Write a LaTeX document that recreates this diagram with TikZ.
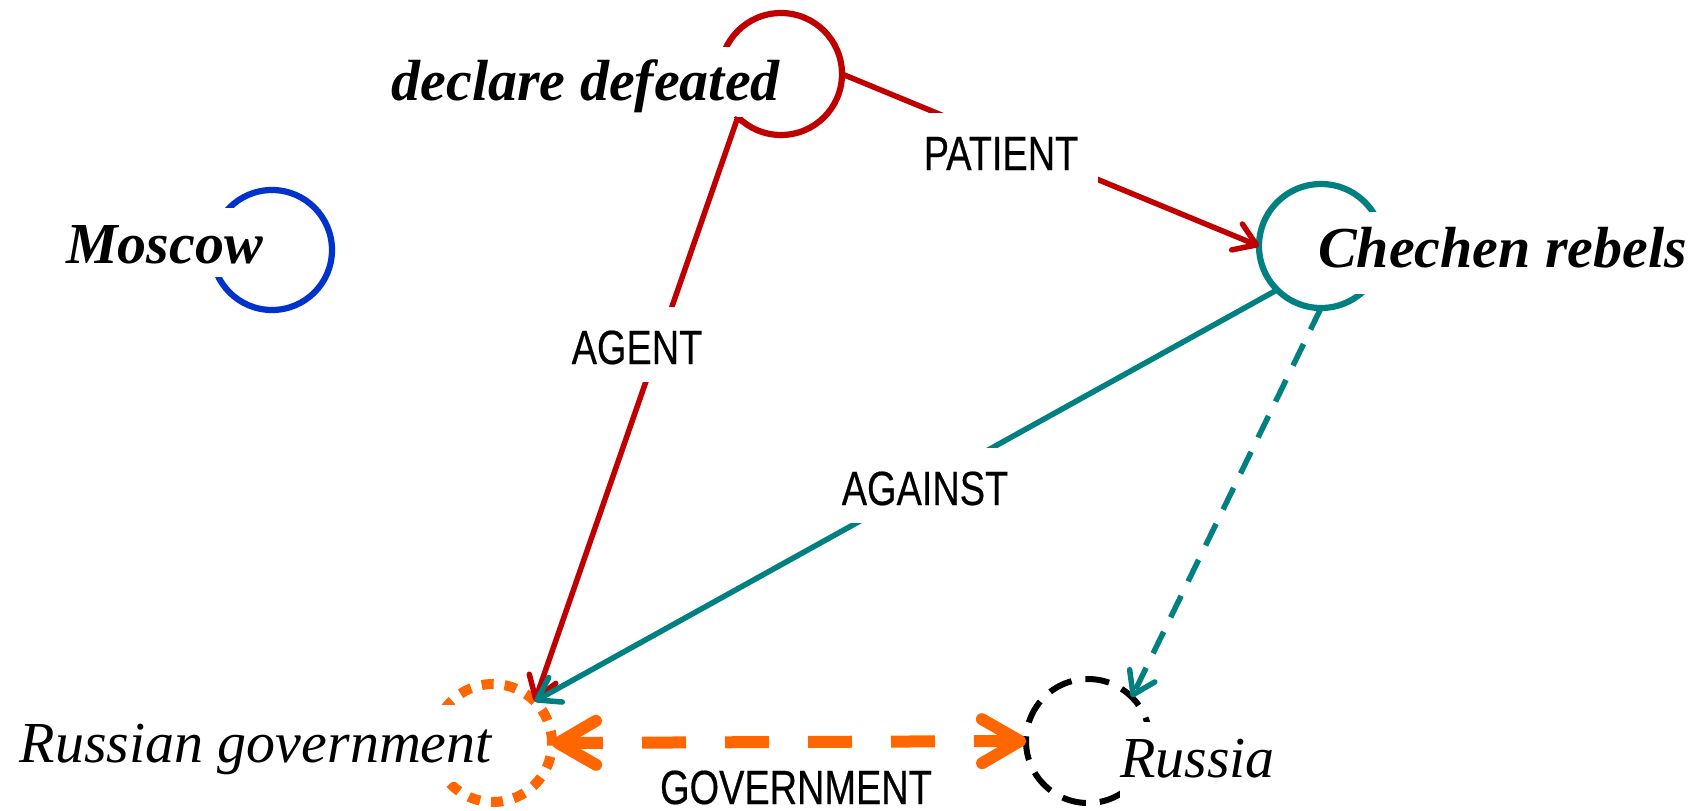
\documentclass[tikz,border=0pt]{standalone}
\usepackage{fontspec}
\setmainfont{Liberation Serif}
\newfontfamily\labfont[FakeStretch=0.79,FakeBold=0.4]{Liberation Sans}
\usetikzlibrary{arrows.meta}
\definecolor{cred}{RGB}{192,0,0}
\definecolor{cteal}{RGB}{0,128,128}
\definecolor{cblue}{RGB}{0,51,204}
\definecolor{corange}{RGB}{255,102,0}
\begin{document}
\begin{tikzpicture}[x=1pt,y=-1pt,
  ring/.style={circle, minimum size=#1, inner sep=0pt, outer sep=0pt, line width=6.2pt},
  nodetext/.style={font=\fontsize{58pt}{60pt}\selectfont\bfseries\itshape, fill=white, inner xsep=4pt, inner ysep=0pt},
  plaintext/.style={font=\fontsize{58pt}{60pt}\selectfont\itshape, fill=white, inner xsep=4pt, inner ysep=0pt},
  lab/.style={font=\labfont\fontsize{48pt}{50pt}\selectfont, fill=white, inner xsep=20pt, inner ysep=0pt, text height=57pt, text depth=18pt, anchor=base},
  redarr/.style={draw=cred, line width=5.5pt, -{Straight Barb[round,length=21pt,width=28pt]}},
  tealarr/.style={draw=cteal, line width=5.5pt, -{Straight Barb[round,length=21pt,width=28pt]}},
  tealdash/.style={tealarr, dash pattern=on 24pt off 16pt},
  orangearr/.style={draw=corange, line width=12pt, dash pattern=on 44pt off 39pt, dash phase=5pt,
    {Straight Barb[round,length=38pt,width=44pt]}-{Straight Barb[round,length=38pt,width=44pt]}}
]
\useasboundingbox[fill=white] (0,0) rectangle (1700,811);

% circles
\node[ring=120pt, draw=cblue] (mo) at (272,250) {};
\node[ring=122pt, draw=cred] (dd) at (781,74) {};
\node[ring=124pt, draw=cteal] (cr) at (1321,246) {};
\node[ring=118pt, draw=corange, line width=10pt, dash pattern=on 12pt off 11pt] (rg) at (493,743) {};
\node[ring=124pt, draw=black, line width=6pt, dash pattern=on 24pt off 14pt] (ru) at (1088,741) {};

% node texts
\node[nodetext, anchor=base east, text height=55pt, text depth=14pt] (mot) at (267,263) {Moscow};
\node[nodetext, anchor=base east, text height=53pt, text depth=17pt] (ddt) at (784,100) {declare defeated};
\node[nodetext, anchor=base west, text height=55pt, text depth=27pt] (crt) at (1314,267) {Chechen rebels};
\node[plaintext, anchor=base east, text height=57pt, text depth=20pt] (rgt) at (496,762) {Russian government};
\node[plaintext, anchor=base west, inner xsep=0pt, text height=55pt, text depth=27pt] (rut) at (1120,777) {Russia};

% connectors
\draw[redarr] (dd.east) -- (cr.west);
\draw[redarr] (dd.south west) -- (rg.north east);
\draw[tealarr] (cr.south west) -- (rg.north east);
\draw[tealdash] (cr.south) -- (ru.north east);
\draw[orangearr] (rg.east) -- (ru.west);

% labels
\node[lab] (lpat) at (1001,170) {PATIENT};
\node[lab] (lagt) at (637,364) {AGENT};
\node[lab] (lagn) at (925,505) {AGAINST};
\node[lab, fill=none] (lgov) at (796,804) {GOVERNMENT};
\end{tikzpicture}
\end{document}
